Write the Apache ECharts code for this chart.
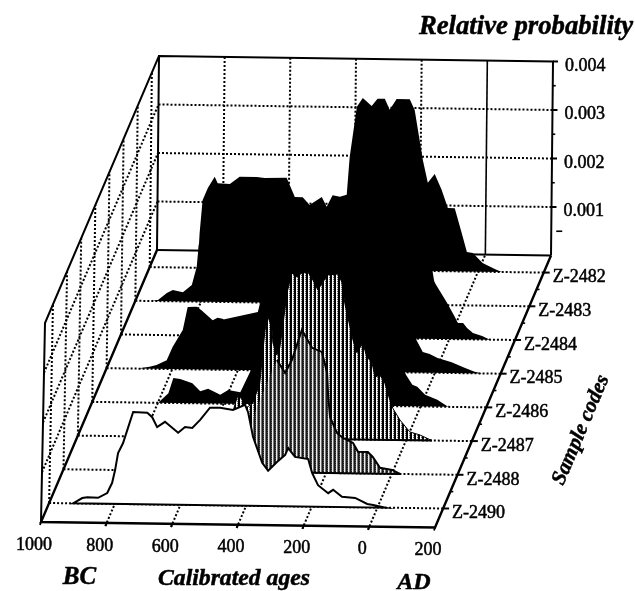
<!DOCTYPE html>
<html><head><meta charset="utf-8">
<style>html,body{margin:0;padding:0;background:#fff}#c{width:635px;height:591px}</style>
<script src="https://cdn.jsdelivr.net/npm/echarts@6/dist/echarts.min.js"></script>
</head><body><div id="c"></div>
<script>
// Sample codes, front to back
const sampleCodes = ['Z-2490','Z-2488','Z-2487','Z-2486','Z-2485','Z-2484','Z-2483','Z-2482'];
const ageTicks = [-1000,-800,-600,-400,-200,0,200];
const ageTickLabels = ['1000','800','600','400','200','0','200'];
const probTicks = [0.001,0.002,0.003,0.004];
const probTickLabels = ['0.001','0.002','0.003','0.004'];
const probMinorTicks = [0.0005,0.0015,0.0025,0.0035];

// Calibrated age (negative = BC) and relative probability in units of 1e-5
const age2482 = [-860,-854,-848,-839,-823,-802,-793,-756,-726,-674,-650,-583,-558,-534,-513,-476,-461,-443,-421,-400,-391,-369,-351,-324,-306,-284,-269,-248,-208,-193,-168,-153,-132,-111,-92,-71,-50,-34,-16,-4,14,26,51,72];
const prob2482 = [0,2,71,138,163,186,173,172,187,187,185,186,147,147,131,148,128,152,149,153,230,333,351,335,350,350,328,350,350,328,226,180,198,166,129,129,79,40,38,30,18,14,6,0];
const age2483 = [-950,-931,-904,-886,-855,-828,-813,-807,-758,-529,-362,-301,-164,-118,-103,-94,-79,-69];
const prob2483 = [0,2,17,23,19,34,71,116,167,173,171,314,336,214,132,65,4,0];
const age2484 = [-759,-723,-583,-531,-333,-150,-40,-7,17,26,42,54,72,100,124];
const prob2484 = [0,28,50,197,220,242,110,74,45,33,33,23,13,7,0];
const age2485 = [-906,-869,-848,-817,-799,-768,-753,-726,-711,-677,-662,-647,-616,-595,-571,-549,-525,-497,-412,-199,-108,-65,-56,-37,-16,8,51,90,121,145];
const prob2485 = [0,4,8,18,45,80,127,128,121,101,106,104,88,98,96,107,136,185,206,228,188,107,66,42,38,30,22,11,3,0];
const age2486 = [-799,-768,-753,-732,-695,-671,-647,-610,-586,-549,-519,-482,-397,-214,-92,-44,-25,-10,14,51,84];
const prob2486 = [0,20,51,49,41,25,30,18,28,24,66,131,173,215,135,64,44,40,24,14,0];
const age2487 = [-543,-528,-513,-497,-488,-467,-446,-440,-430,-421,-409,-406,-394,-385,-376,-363,-348,-333,-318,-299,-284,-269,-254,-239,-208,-196,-187,-178,-162,-150,-141,-132,-120,-104,-95,-80,-65,-50,-41,-19,11,42,78];
const prob2487 = [0,53,87,77,61,71,112,153,221,248,225,195,170,185,228,297,338,330,338,340,324,304,320,335,337,321,278,250,203,177,187,197,169,157,128,132,116,82,65,41,17,11,0];
const age2488 = [-462,-432,-414,-383,-350,-325,-304,-274,-243,-213,-197,-194,-188,-167,-149,-136,-118,-103,-73,-58,-36,1,25];
const prob2488 = [0,86,127,178,229,203,230,291,255,247,204,159,114,82,72,68,62,44,44,34,12,8,0];
const age2490 = [-927,-899,-884,-851,-823,-808,-799,-790,-775,-759,-744,-701,-686,-671,-647,-607,-586,-564,-540,-510,-479,-440,-403,-394,-379,-351,-333,-306,-281,-272,-251,-211,-199,-181,-150,-135,-108,-68,-31,-13,23];
const prob2490 = [0,11,13,12,22,43,69,104,124,157,188,187,178,158,169,147,159,157,174,199,199,195,206,191,141,88,72,90,105,119,101,97,69,44,28,35,21,19,7,5,0];

const PROB_UNIT = 1e-5;
const AGE_MIN = -1000, AGE_MAX = 200, PROB_MAX = 0.004;
// Oblique projection, expressed in pixels of the grid below
const GRID = {left:41, top:323, width:394, height:199};
const DEPTH_X = 116, DEPTH_Y = 272, SLOPE = 5.5, ROW0 = 0.0699, ROWSTEP = 0.1239;
const ageK = (AGE_MAX-AGE_MIN)/GRID.width, probK = PROB_MAX/GRID.height;
const rowDepth = k => ROW0 + ROWSTEP*k;

function wallPt(api, age, d, p){
  const u = (age-AGE_MIN)/(AGE_MAX-AGE_MIN), pf = p/PROB_MAX;
  return api.coord([age + (d*DEPTH_X + pf*(4-2*d))*ageK,
                    p*(1-0.025*d) + (d*DEPTH_Y - u*SLOPE)*probK]);
}
function ridgePt(api, age, d, p){
  const u = (age-AGE_MIN)/(AGE_MAX-AGE_MIN);
  return api.coord([age + d*DEPTH_X*ageK, p*196/199 + (d*DEPTH_Y - u*SLOPE)*probK]);
}
const line = (pts,w,dash) => ({type:'polyline',shape:{points:pts},style:{fill:'none',stroke:'#000',lineWidth:w,lineDash:dash||null}});
const DOT = [2,2];
const txt = (s,x,y,font,align,rot) => ({type:'text',x,y,rotation:rot||0,style:{text:s,x:0,y:0,fill:'#000',font,align:align||'center',verticalAlign:'middle',textAlign:align||'center',textVerticalAlign:'middle',stroke:'#000',lineWidth:0.5}});

function tile(w,h,draw){
  const c=document.createElement('canvas');c.width=w;c.height=h;
  const g=c.getContext('2d');draw(g);return c;
}
const hatchLight = tile(4,2,g=>{g.fillStyle='#000';g.fillRect(0,0,4,2);g.fillStyle='#fff';g.fillRect(0,0,1,2);g.fillStyle='#ddd';g.fillRect(1,0,1,1);g.fillStyle='#666';g.fillRect(1,1,1,1);});
const hatchDark = tile(4,2,g=>{g.fillStyle='#1a1a1a';g.fillRect(0,0,4,2);g.fillStyle='#eee';g.fillRect(0,0,1,2);g.fillStyle='#777';g.fillRect(1,0,1,2);g.fillStyle='#555';g.fillRect(3,0,1,1);});

function frame(api){
  const kids=[];
  // Back wall grid
  [-800,-600,-400,-200].forEach(a=>kids.push(line([wallPt(api,a,1,0),wallPt(api,a,1,PROB_MAX)],2,DOT)));
  kids.push(line([wallPt(api,0,1,0),wallPt(api,0,1,PROB_MAX)],1.6));
  probTicks.slice(0,3).forEach(p=>kids.push(line([wallPt(api,AGE_MIN,1,p),wallPt(api,AGE_MAX,1,p)],2,DOT)));
  // Left wall grid
  probTicks.slice(0,3).forEach(p=>kids.push(line([wallPt(api,AGE_MIN,0,p),wallPt(api,AGE_MIN,1,p)],2,DOT)));
  sampleCodes.forEach((s,k)=>kids.push(line([wallPt(api,AGE_MIN,rowDepth(k),0),wallPt(api,AGE_MIN,rowDepth(k),PROB_MAX)],2,DOT)));
  // Floor grid
  sampleCodes.forEach((s,k)=>kids.push(line([wallPt(api,AGE_MIN,rowDepth(k),0),wallPt(api,AGE_MAX,rowDepth(k),0)],2,DOT)));
  [-800,-600,-400,-200,0].forEach(a=>kids.push(line([wallPt(api,a,-0.012,0),wallPt(api,a,1,0)],2,DOT)));
  // Solid frame
  kids.push(line([wallPt(api,AGE_MIN,1,0),wallPt(api,AGE_MAX,1,0)],2));
  kids.push(line([wallPt(api,AGE_MIN,1,0),wallPt(api,AGE_MIN,1,PROB_MAX),wallPt(api,AGE_MAX,1,PROB_MAX),wallPt(api,AGE_MAX,1,0)],2));
  kids.push(line([wallPt(api,AGE_MIN,0,0),wallPt(api,AGE_MIN,0,PROB_MAX),wallPt(api,AGE_MIN,1,PROB_MAX)],2));
  return kids;
}
function ridge(api,k,ages,vals,fill,opt){
  opt=opt||{};
  const d=rowDepth(k);
  const pts=ages.map((a,i)=>ridgePt(api,a,d,vals[i]*PROB_UNIT));
  const kids=[{type:'polygon',shape:{points:pts},style:{fill,stroke:opt.stroke?'#000':'none',lineWidth:opt.stroke||0}}];
  if(opt.base) kids.push(line([pts[0],pts[pts.length-1]],opt.base));
  if(opt.outlineFrom!==undefined){
    const o=pts.filter((p,i)=>ages[i]>=opt.outlineFrom);
    kids.push(line(o,2));
  }
  return kids;
}
function frontEdges(api){
  const kids=[];
  kids.push(line([wallPt(api,AGE_MIN,1,0),wallPt(api,AGE_MIN,0,0),wallPt(api,AGE_MAX,0,0),wallPt(api,AGE_MAX,1,0)],2.4));
  // right-hand axis ticks and labels
  sampleCodes.forEach((s,k)=>{
    const d=rowDepth(k), q=wallPt(api,AGE_MAX,d,0);
    kids.push(line([q,[q[0]+6,q[1]]],2));
    const m=wallPt(api,AGE_MAX,d+ROWSTEP/2,0);
    if(k<7) kids.push(line([m,[m[0]+3,m[1]]],1.6));
    kids.push(txt(s,q[0]+9,q[1]+5,'18px "Liberation Serif"','left'));
  });
  // vertical axis ticks
  probTicks.forEach((p,i)=>{
    const q=wallPt(api,AGE_MAX,1,p);
    kids.push(line([q,[q[0]+5,q[1]]],2));
    kids.push(txt(probTickLabels[i],q[0]+12,q[1]+4.5,'18px "Liberation Serif"','left'));
  });
  probMinorTicks.forEach(p=>{
    const q=wallPt(api,AGE_MAX,1,p);
    kids.push(line([[q[0]+(p<0.001?5:0),q[1]],[q[0]+(p<0.001?11:3),q[1]]],1.6));
  });
  // age labels
  ageTicks.forEach((a,i)=>{
    const q=wallPt(api,a,0,0);
    kids.push(line([q,[q[0]-1,q[1]+3]],1.8));
    kids.push(txt(ageTickLabels[i],q[0]-7,q[1]+23,'18px "Liberation Serif"'));
  });
  // titles
  kids.push(txt('Relative probability',526,27,'italic bold 26.7px "Liberation Serif"'));
  kids.push(txt('BC',79.5,578,'italic bold 25px "Liberation Serif"'));
  kids.push(txt('Calibrated ages',234,579,'italic bold 23.7px "Liberation Serif"'));
  kids.push(txt('AD',414,583,'italic bold 24px "Liberation Serif"'));
  kids.push(txt('Sample codes',581,430,'italic bold 21px "Liberation Serif"','center',67*Math.PI/180));
  return kids;
}
const layers = [
  api=>frame(api),
  api=>ridge(api,7,age2482,prob2482,'#000'),
  api=>ridge(api,6,age2483,prob2483,'#000'),
  api=>ridge(api,5,age2484,prob2484,'#000'),
  api=>ridge(api,4,age2485,prob2485,'#000'),
  api=>ridge(api,3,age2486,prob2486,'#000'),
  api=>ridge(api,2,age2487,prob2487,{image:hatchLight,repeat:'repeat'},{stroke:1,base:2}),
  api=>ridge(api,1,age2488,prob2488,{image:hatchDark,repeat:'repeat'},{outlineFrom:-350,base:2}),
  api=>ridge(api,0,age2490,prob2490,'#fff',{stroke:2}),
  api=>frontEdges(api)
];
const chart = echarts.init(document.getElementById('c'),null,{renderer:'canvas'});
chart.setOption({
  animation:false,
  backgroundColor:'#fff',
  grid:{left:GRID.left,top:GRID.top,width:GRID.width,height:GRID.height},
  xAxis:{type:'value',min:AGE_MIN,max:AGE_MAX,show:false},
  yAxis:{type:'value',min:0,max:PROB_MAX,show:false},
  series:layers.map((fn,i)=>({
    type:'custom',coordinateSystem:'cartesian2d',silent:true,clip:false,z:i+2,
    data:[[0,0]],
    renderItem:(params,api)=>({type:'group',children:fn(api)})
  }))
});
</script></body></html>
